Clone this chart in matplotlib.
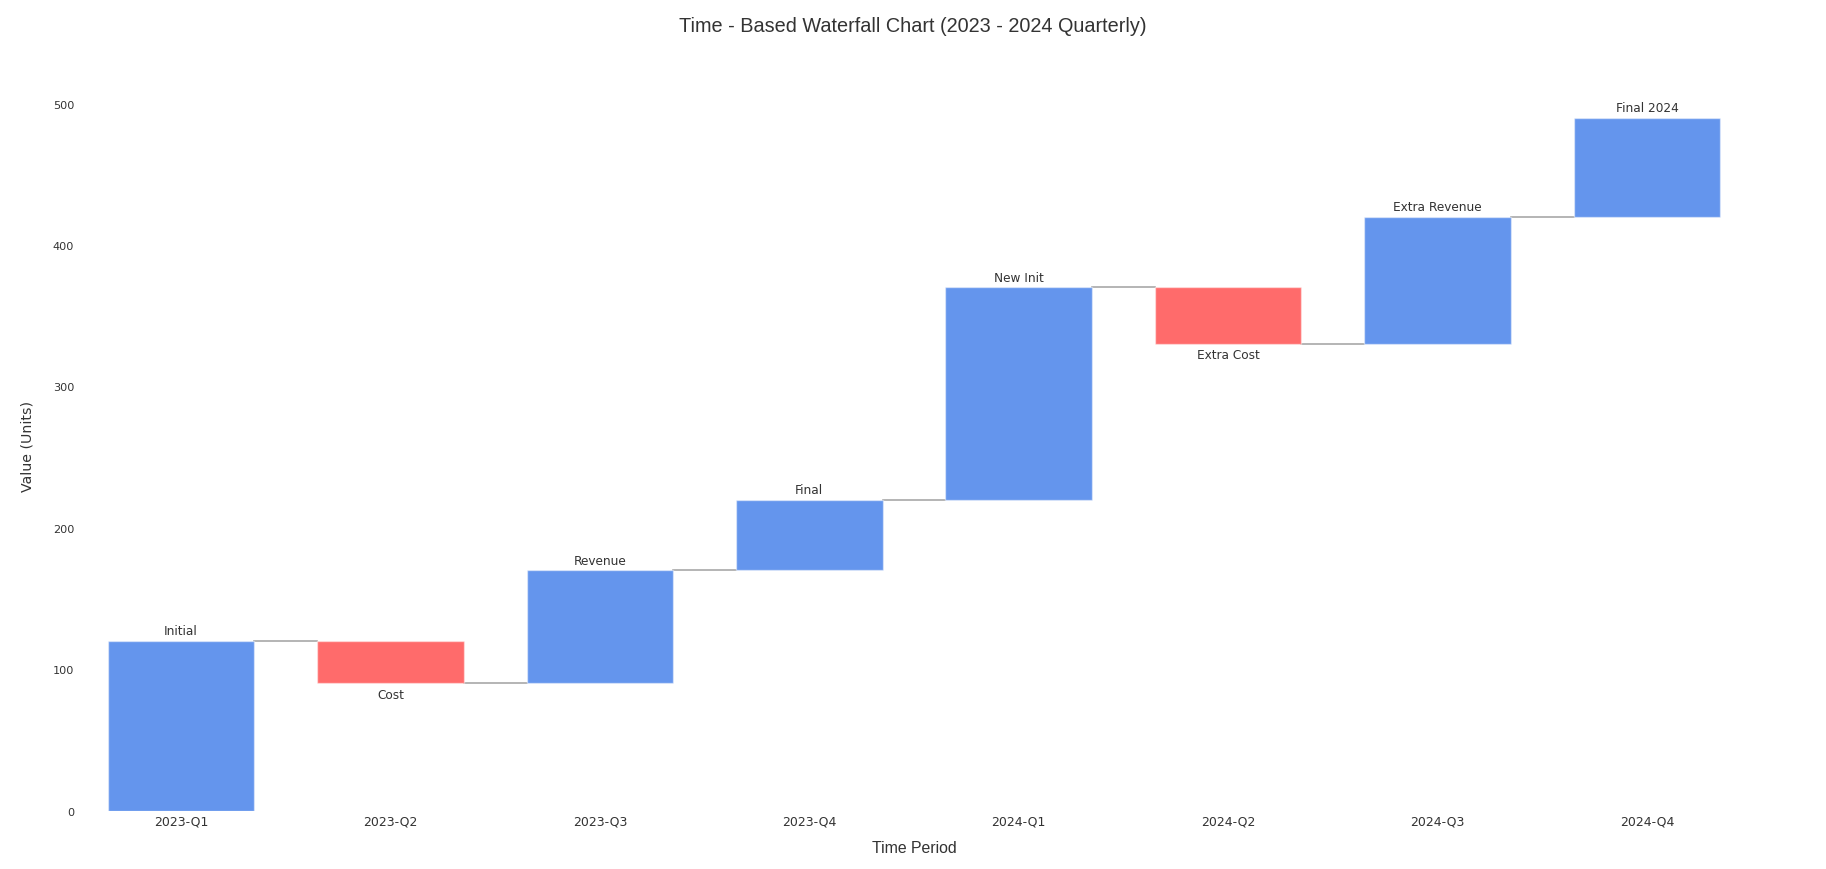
import matplotlib
matplotlib.use('agg')
import matplotlib.pyplot as plt
import numpy as np

plt.rcParams['font.family'] = ['DejaVu Sans']

# waterfall data
periods = ['2023-Q1', '2023-Q2', '2023-Q3', '2023-Q4',
           '2024-Q1', '2024-Q2', '2024-Q3', '2024-Q4']
step_labels = ['Initial', 'Cost', 'Revenue', 'Final',
               'New Init', 'Extra Cost', 'Extra Revenue', 'Final 2024']
changes = [120, -30, 80, 50, 150, -40, 90, 70]
y_ticks = [0, 100, 200, 300, 400, 500]

BLUE = '#6495ED'
RED = '#FF6B6B'
TXT = '#333333'

ends = np.cumsum(changes)
starts = ends - np.array(changes)
x = np.arange(len(periods))
width = 0.7

fig = plt.figure(figsize=(18.26, 8.7), dpi=100)
ax = fig.add_axes([0.0418, 0.0671, 0.9175, 0.8384])

for i, (s, c) in enumerate(zip(starts, changes)):
    col = BLUE if c >= 0 else RED
    ax.bar(x[i], c, bottom=s, width=width, color=col,
           edgecolor=(1, 1, 1, 0.45), linewidth=1.0, zorder=2)
    if c >= 0:
        ax.annotate(step_labels[i], (x[i], s + c), xytext=(0, 2.5),
                    textcoords='offset points', ha='center', va='bottom',
                    fontsize=8.7, color=TXT)
    else:
        ax.annotate(step_labels[i], (x[i], s + c), xytext=(0, -3),
                    textcoords='offset points', ha='center', va='top',
                    fontsize=8.7, color=TXT)

# connectors between bars
for i in range(len(periods) - 1):
    ax.plot([x[i] + width / 2, x[i + 1] - width / 2], [ends[i], ends[i]],
            color='#a8a8a8', linewidth=1.2, zorder=1)

ax.set_xlim(-0.5, len(periods) - 0.5)
ax.set_ylim(0, 515.8)
ax.set_xticks(x)
ax.set_xticklabels(periods)
ax.set_yticks(y_ticks)
ax.tick_params(axis='both', length=0, labelcolor=TXT)
ax.tick_params(axis='x', pad=2.5, labelsize=9.0)
ax.tick_params(axis='y', pad=1.5, labelsize=8.1)
for sp in ax.spines.values():
    sp.set_visible(False)

ax.set_xlabel('Time Period', fontsize=11.4, color=TXT,
              family='Liberation Sans', va='center')
ax.xaxis.set_label_coords(0.5, -0.0499)
ax.set_ylabel('Value (Units)', fontsize=10.2, color=TXT, va='center')
ax.yaxis.set_label_coords(-0.0294, 0.5)
fig.suptitle('Time - Based Waterfall Chart (2023 - 2024 Quarterly)',
             fontsize=14.3, color=TXT, family='Liberation Sans',
             y=0.97, va='center')

fig.savefig('out.png', dpi=100)
